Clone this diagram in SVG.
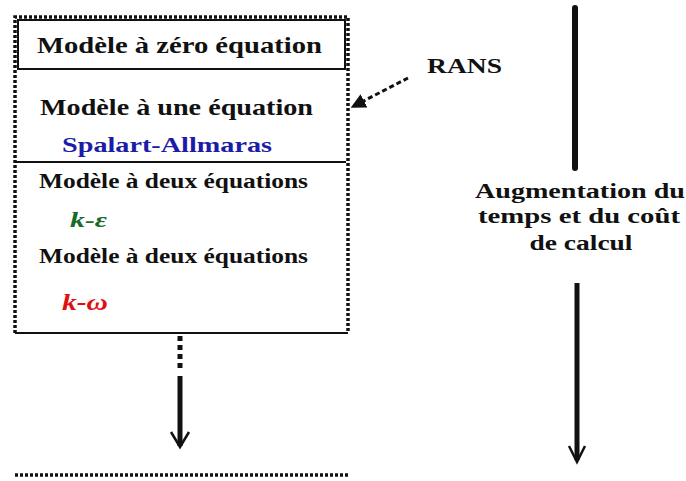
<svg xmlns="http://www.w3.org/2000/svg" width="686" height="481" viewBox="0 0 686 481">
<style>
.t{font-family:"Liberation Serif","Times New Roman",serif;font-weight:bold;fill:#111}
.big{font-size:23px}
.mid{font-size:20px}
.lab{font-size:20px}
.dot{fill:none;stroke:#111;stroke-width:3.5;stroke-dasharray:3 2}
.solid{fill:none;stroke:#111;stroke-width:2}
.thick{fill:none;stroke:#111;stroke-width:5}
</style>
<defs>
<marker id="tri" viewBox="0 0 10 10" refX="9" refY="5" markerWidth="5" markerHeight="5" orient="auto">
<path d="M0,0 L10,5 L0,10 z" fill="#111"/>
</marker>
</defs>
<rect width="686" height="481" fill="#fff"/>
<g id="rans-box">
<path class="dot" d="M15,333 L15,17 L348,17 L348,333"/>
<line class="solid" x1="15" y1="333" x2="348" y2="333"/>
</g>
<g id="zero-eq">
<rect class="solid" x="18" y="20" width="327" height="49"/>
<text class="t big" x="37" y="53" textLength="285" lengthAdjust="spacingAndGlyphs">Modèle à zéro équation</text>
</g>
<g id="one-eq">
<line class="solid" x1="15" y1="162" x2="346" y2="162"/>
<text class="t big" x="40" y="115" textLength="273" lengthAdjust="spacingAndGlyphs">Modèle à une équation</text>
<text class="t big" x="62" y="152" textLength="210" lengthAdjust="spacingAndGlyphs" style="fill:#1c1ca8;font-size:21px">Spalart-Allmaras</text>
</g>
<g id="two-eq-ke">
<text class="t mid" x="39" y="188" textLength="269" lengthAdjust="spacingAndGlyphs">Modèle à deux équations</text>
<text class="t mid" x="70" y="227" style="fill:#1a6a2a;font-style:italic;font-size:21px" textLength="37" lengthAdjust="spacingAndGlyphs">k-ε</text>
</g>
<g id="two-eq-kw">
<text class="t mid" x="39" y="263" textLength="269" lengthAdjust="spacingAndGlyphs">Modèle à deux équations</text>
<text class="t mid" x="62" y="310" style="fill:#e01010;font-style:italic;font-size:23px" textLength="46" lengthAdjust="spacingAndGlyphs">k-ω</text>
</g>
<g id="next-box">
<line class="dot" x1="15" y1="475" x2="350" y2="475"/>
</g>
<g id="rans-label">
<text class="t lab" x="427" y="73" textLength="75" lengthAdjust="spacingAndGlyphs">RANS</text>
</g>
<g id="cost-label">
<text class="t lab" text-anchor="middle" x="580" y="198" textLength="210" lengthAdjust="spacingAndGlyphs">Augmentation du</text>
<text class="t lab" text-anchor="middle" x="579" y="223" textLength="202" lengthAdjust="spacingAndGlyphs">temps et du coût</text>
<text class="t lab" text-anchor="middle" x="581" y="250" textLength="103" lengthAdjust="spacingAndGlyphs">de calcul</text>
</g>
<g id="connectors">
<line x1="408" y1="78" x2="352" y2="107" stroke="#111" stroke-width="3" stroke-dasharray="5 3" marker-end="url(#tri)"/>
<line x1="180" y1="336" x2="180" y2="372" stroke="#111" stroke-width="5" stroke-dasharray="5 4"/>
<line class="thick" x1="180" y1="376" x2="180" y2="446"/>
<path d="M171,432 L180,447 L189,432" fill="none" stroke="#111" stroke-width="2.5"/>
<line x1="575" y1="8" x2="575" y2="168" stroke="#111" stroke-width="6" stroke-linecap="round"/>
<line class="thick" x1="577" y1="283" x2="577" y2="460"/>
<path d="M569,446 L577,462 L585,446" fill="none" stroke="#111" stroke-width="2.5"/>
</g>
</svg>
